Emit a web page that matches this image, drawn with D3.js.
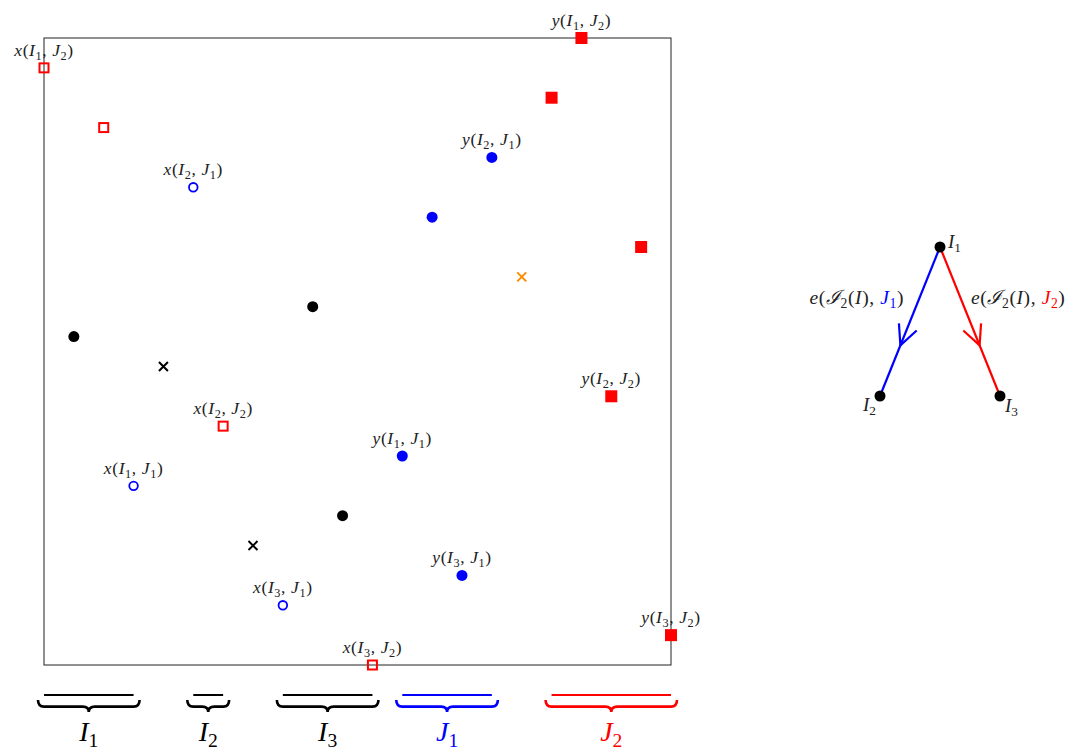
<!DOCTYPE html>
<html>
<head>
<meta charset="utf-8">
<script src="https://cdn.jsdelivr.net/npm/d3@7"></script>
<style>
  body { margin: 0; background: #fff; }
  text { font-family: "Liberation Serif", "DejaVu Serif", serif; }
</style>
</head>
<body>
<div id="chart"></div>
<script>
// Permutation points: position i on x, perm[i] on y
const perm = [20, 11, 18, 6, 10, 16, 8, 4, 2, 12, 5, 0, 7, 15, 3, 17, 13, 19, 21, 9, 14, 1];
const kinds = ["xJ2", "dot", "xJ2", "xJ1", "cross", "xJ1", "xJ2", "cross", "xJ1", "dot", "dot",
               "xJ2", "yJ1", "yJ1", "yJ1", "yJ1", "orange", "yJ2", "yJ2", "yJ2", "yJ2", "yJ2"];
const labels = ["x(I_1, J_2)", "", "", "x(I_1, J_1)", "", "x(I_2, J_1)", "x(I_2, J_2)", "", "x(I_3, J_1)", "", "",
                "x(I_3, J_2)", "y(I_1, J_1)", "", "y(I_3, J_1)", "y(I_2, J_1)", "", "", "y(I_1, J_2)", "y(I_2, J_2)", "", "y(I_3, J_2)"];

// Blocks under the axis
const blocks = [
  { name: "I_1", from: 0, to: 3, color: "#000" },
  { name: "I_2", from: 5, to: 6, color: "#000" },
  { name: "I_3", from: 8, to: 11, color: "#000" },
  { name: "J_1", from: 12, to: 15, color: "#0000ff" },
  { name: "J_2", from: 17, to: 21, color: "#ff0000" }
];

// Small tree on the right
const nodes = [
  { id: "I_1", gx: 0, gy: 0 },
  { id: "I_2", gx: -1, gy: 1 },
  { id: "I_3", gx: 1, gy: 1 }
];
const edges = [
  { from: "I_1", to: "I_2", color: "#0000ff", j: "J_1" },
  { from: "I_1", to: "I_3", color: "#ff0000", j: "J_2" }
];

const svg = d3.select("#chart").append("svg")
  .attr("width", 1083).attr("height", 751);

const x = d3.scaleLinear().domain([0, 21]).range([44, 671]);
const y = d3.scaleLinear().domain([0, 21]).range([665, 38]);

// write "x(I_1, J_2)" style math text into a text element
// (subscripts are lowered, the next character goes back up)
function mathText(t, str, color) {
  let shift = null;
  const tokens = str.match(/_\d|./g);
  tokens.forEach(tok => {
    const s = t.append("tspan");
    if (tok[0] === "_") {
      s.attr("font-size", "0.7em").attr("dy", "0.3em").attr("font-style", "normal").text(tok[1]);
      shift = "-0.21em";
    } else {
      s.attr("font-style", /[A-Za-z\u2110]/.test(tok) ? "italic" : "normal").text(tok);
      if (shift) { s.attr("dy", shift); shift = null; }
    }
  });
  if (color) t.attr("fill", color);
}

// frame
svg.append("rect")
  .attr("x", x(0)).attr("y", y(21))
  .attr("width", x(21) - x(0)).attr("height", y(0) - y(21))
  .attr("fill", "none").attr("stroke", "#222").attr("stroke-width", 1);

const pts = perm.map((v, i) => ({ i, v, kind: kinds[i], label: labels[i] }));

const g = svg.append("g");
pts.forEach(d => {
  const cx = x(d.i), cy = y(d.v);
  if (d.kind === "xJ2") {
    g.append("rect").attr("x", cx - 4.5).attr("y", cy - 4.5).attr("width", 9).attr("height", 9)
      .attr("fill", "none").attr("stroke", "#ff0000").attr("stroke-width", 2);
  } else if (d.kind === "yJ2") {
    g.append("rect").attr("x", cx - 6).attr("y", cy - 6).attr("width", 12).attr("height", 12)
      .attr("fill", "#ff0000");
  } else if (d.kind === "xJ1") {
    g.append("circle").attr("cx", cx).attr("cy", cy).attr("r", 4.3)
      .attr("fill", "none").attr("stroke", "#0000ff").attr("stroke-width", 1.8);
  } else if (d.kind === "yJ1") {
    g.append("circle").attr("cx", cx).attr("cy", cy).attr("r", 5.5).attr("fill", "#0000ff");
  } else if (d.kind === "dot") {
    g.append("circle").attr("cx", cx).attr("cy", cy).attr("r", 5.5).attr("fill", "#000");
  } else {
    const c = d.kind === "orange" ? "#ff8c00" : "#000";
    g.append("path")
      .attr("d", `M${cx - 4.5},${cy - 4.5}L${cx + 4.5},${cy + 4.5}M${cx - 4.5},${cy + 4.5}L${cx + 4.5},${cy - 4.5}`)
      .attr("stroke", c).attr("stroke-width", 2);
  }
  if (d.label) {
    const t = g.append("text").attr("x", cx).attr("y", cy - 12)
      .attr("text-anchor", "middle").attr("font-size", 17.5)
      .attr("letter-spacing", 0.6).attr("fill", "#222");
    mathText(t, d.label);
  }
});

// braces with overlines
function bracePath(x0, x1, yt, h) {
  const xm = (x0 + x1) / 2, r = 6, ym = yt + h * 0.55;
  return `M${x0},${yt} Q${x0},${ym} ${x0 + r},${ym} L${xm - r},${ym} Q${xm},${ym} ${xm},${yt + h}` +
         ` Q${xm},${ym} ${xm + r},${ym} L${x1 - r},${ym} Q${x1},${ym} ${x1},${yt}`;
}
const bg = svg.append("g");
blocks.forEach(b => {
  const a = x(b.from), e = x(b.to);
  bg.append("line").attr("x1", a).attr("x2", e).attr("y1", 695).attr("y2", 695)
    .attr("stroke", b.color).attr("stroke-width", 2);
  bg.append("path").attr("d", bracePath(a - 6, e + 6, 700, 12))
    .attr("fill", "none").attr("stroke", b.color).attr("stroke-width", 2.6);
  const t = bg.append("text").attr("x", (a + e) / 2).attr("y", 741)
    .attr("text-anchor", "middle").attr("font-size", 28);
  mathText(t, b.name, b.color);
});

// tree
const gx = d3.scaleLinear().domain([-1, 1]).range([880, 1000]);
const gy = d3.scaleLinear().domain([0, 1]).range([247, 396]);
const byId = new Map(nodes.map(n => [n.id, n]));
const tg = svg.append("g");
edges.forEach(e => {
  const s = byId.get(e.from), d = byId.get(e.to);
  const x1 = gx(s.gx), y1 = gy(s.gy), x2 = gx(d.gx), y2 = gy(d.gy);
  tg.append("line").attr("x1", x1).attr("y1", y1).attr("x2", x2).attr("y2", y2)
    .attr("stroke", e.color).attr("stroke-width", 2.2);
  // open arrow head
  const t = 0.66, px = x1 + (x2 - x1) * t, py = y1 + (y2 - y1) * t;
  const ang = Math.atan2(y2 - y1, x2 - x1), L = 22, w = 0.45;
  const ax = px - L * Math.cos(ang - w), ay = py - L * Math.sin(ang - w);
  const bx = px - L * Math.cos(ang + w), by = py - L * Math.sin(ang + w);
  tg.append("path").attr("d", `M${ax},${ay}L${px},${py}L${bx},${by}`)
    .attr("fill", "none").attr("stroke", e.color).attr("stroke-width", 2.2);
  // label
  const left = d.gx < 0;
  const lt = tg.append("text")
    .attr("x", left ? 904 : 971).attr("y", 304)
    .attr("text-anchor", left ? "end" : "start")
    .attr("font-size", 19.5).attr("letter-spacing", 0.6).attr("fill", "#222");
  mathText(lt, "e(\u2110_2(I), ");
  const jt = lt.append("tspan").attr("fill", e.color);
  jt.append("tspan").attr("font-style", "italic").text("J");
  jt.append("tspan").attr("font-size", "0.7em").attr("dy", "0.3em").text(e.j[2]);
  lt.append("tspan").attr("dy", "-0.21em").text(")");
});
nodes.forEach(n => {
  tg.append("circle").attr("cx", gx(n.gx)).attr("cy", gy(n.gy)).attr("r", 5.5).attr("fill", "#000");
  const t = tg.append("text").attr("font-size", 19).attr("fill", "#222");
  if (n.gy === 0) t.attr("x", gx(n.gx) + 8).attr("y", gy(n.gy) + 1);
  else if (n.gx < 0) t.attr("x", gx(n.gx) - 4).attr("y", gy(n.gy) + 15).attr("text-anchor", "end");
  else t.attr("x", gx(n.gx) + 5).attr("y", gy(n.gy) + 16);
  mathText(t, n.id);
});
</script>
</body>
</html>
